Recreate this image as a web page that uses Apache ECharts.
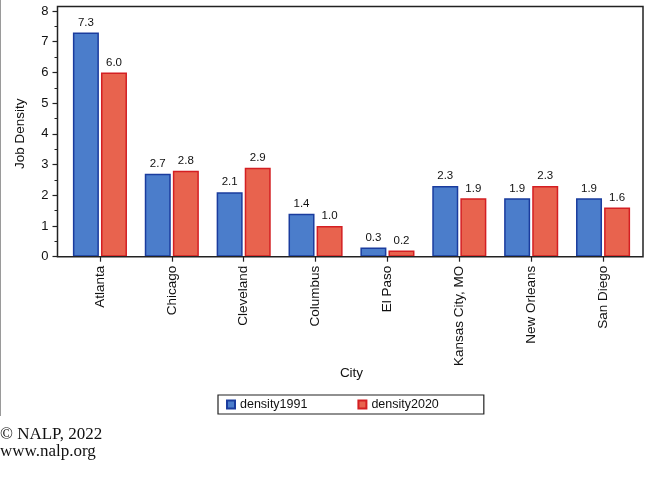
<!DOCTYPE html>
<html>
<head>
<meta charset="utf-8">
<script src="https://cdn.jsdelivr.net/npm/echarts@6/dist/echarts.min.js"></script>
<style>
html,body{margin:0;padding:0;background:#fff;}
#chart{width:652px;height:481px;}
</style>
</head>
<body>
<div id="chart"></div>
<script>
const cities = ["Atlanta", "Chicago", "Cleveland", "Columbus", "El Paso", "Kansas City, MO", "New Orleans", "San Diego"];
const density1991 = [7.3, 2.7, 2.1, 1.4, 0.3, 2.3, 1.9, 1.9];
const density2020 = [6.0, 2.8, 2.9, 1.0, 0.2, 1.9, 2.3, 1.6];
const yTicks = { min: 0, max: 8, interval: 1 };

const chart = echarts.init(document.getElementById('chart'), null, { renderer: 'canvas' });
const sans = '"Liberation Sans", Arial, sans-serif';
const labelCfg = {
  show: true, position: 'top', distance: 4,
  fontFamily: sans, fontSize: 11.5, color: '#111',
  formatter: p => p.value.toFixed(1)
};
chart.setOption({
  animation: false,
  backgroundColor: '#fff',
  grid: { left: 64, right: 13, top: 11, bottom: 224.3, containLabel: false },
  xAxis: {
    type: 'category', data: cities,
    axisLine: { show: false },
    axisTick: { show: true, alignWithLabel: true, length: 5, lineStyle: { color: '#222', width: 1.2 } },
    axisLabel: { rotate: 90, margin: 9, fontFamily: sans, fontSize: 13.5, color: '#111', interval: 0 },
    name: 'City', nameLocation: 'middle', nameGap: 110, nameMoveOverlap: false,
    nameTextStyle: { fontFamily: sans, fontSize: 13.5, color: '#111' }
  },
  yAxis: {
    type: 'value', min: yTicks.min, max: yTicks.max, interval: yTicks.interval,
    offset: 6.5,
    axisLine: { show: false },
    axisTick: { show: true, length: 5, lineStyle: { color: '#222', width: 1.2 } },
    minorTick: { show: true, splitNumber: 2, length: 3, lineStyle: { color: '#222', width: 1 } },
    splitLine: { show: false },
    axisLabel: { margin: 9, fontFamily: sans, fontSize: 13, color: '#111' },
    name: 'Job Density', nameLocation: 'middle', nameGap: 30,
    nameTextStyle: { fontFamily: sans, fontSize: 13.5, color: '#111' }
  },
  legend: {
    left: 218, top: 395,
    padding: [3, 45, 3, 8],
    borderColor: '#222', borderWidth: 1.2,
    itemGap: 50, itemWidth: 8, itemHeight: 8, icon: 'rect',
    textStyle: { fontFamily: sans, fontSize: 12.5, color: '#111' },
    data: ['density1991', 'density2020']
  },
  series: [
    {
      name: 'density1991', type: 'bar', data: density1991,
      barWidth: 26, barGap: '8%',
      itemStyle: { color: '#4b7dcb', borderColor: '#1a3c9e', borderWidth: 1.5 },
      label: labelCfg
    },
    {
      name: 'density2020', type: 'bar', data: density2020,
      barWidth: 26,
      itemStyle: { color: '#e8634e', borderColor: '#d41f22', borderWidth: 1.5 },
      label: labelCfg
    }
  ],
  graphic: [
    { type: 'rect', z: 100, silent: true,
      shape: { x: 57.5, y: 6.5, width: 585.5, height: 250.2 },
      style: { fill: 'none', stroke: '#222', lineWidth: 1.5 } },
    { type: 'line', z: 100, silent: true,
      shape: { x1: 0.5, y1: 0, x2: 0.5, y2: 416 },
      style: { stroke: '#9a9a9a', lineWidth: 1 } },
    { type: 'text', left: 0, top: 426,
      style: { text: '© NALP, 2022', font: '17px "Liberation Serif", "Times New Roman", serif', fill: '#111' } },
    { type: 'text', left: 0, top: 443,
      style: { text: 'www.nalp.org', font: '17px "Liberation Serif", "Times New Roman", serif', fill: '#111' } }
  ]
});
</script>
</body>
</html>
